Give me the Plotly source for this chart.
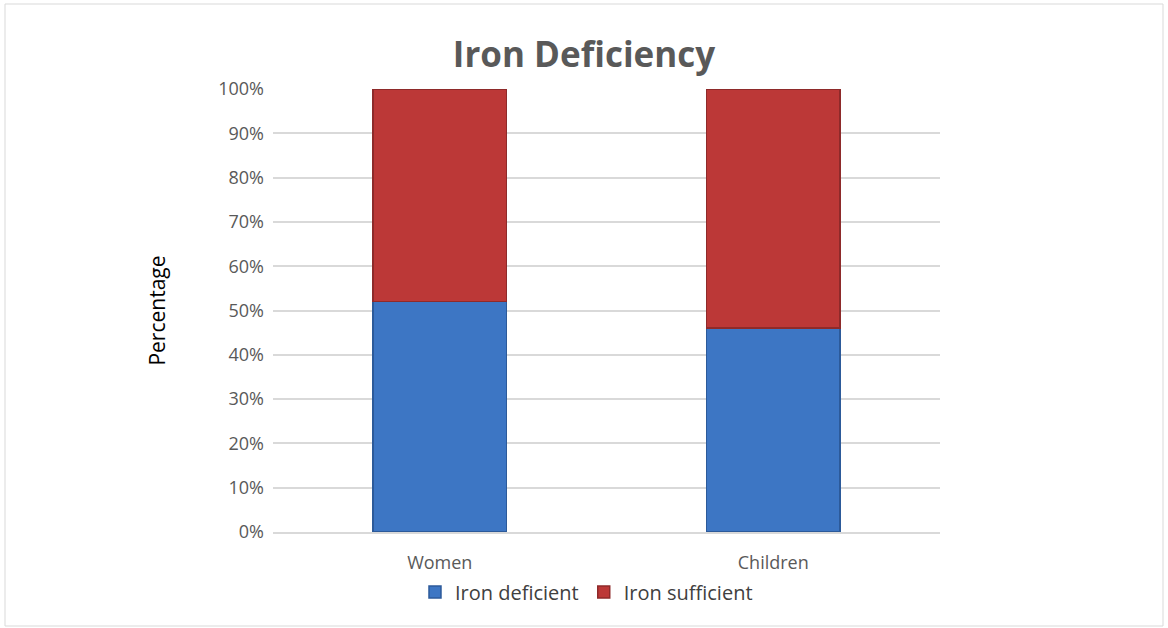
import plotly.graph_objects as go

categories = ["Women", "Children"]
iron_deficient = [52, 46]
iron_sufficient = [48, 54]
tick_vals = [0, 10, 20, 30, 40, 50, 60, 70, 80, 90, 100]
tick_text = [f"{v}%" for v in tick_vals]

FONT = "Open Sans"

fig = go.Figure()
fig.add_trace(go.Bar(
    x=categories, y=iron_deficient, name="Iron deficient",
    marker=dict(color="#3d76c4", line=dict(color="#2c5a9a", width=1.5)),
))
fig.add_trace(go.Bar(
    x=categories, y=iron_sufficient, name="Iron sufficient",
    marker=dict(color="#bc3837", line=dict(color="#8e2a2a", width=1.5)),
))

fig.update_layout(
    barmode="stack",
    bargap=0.6,
    width=1168, height=628,
    margin=dict(l=273, r=228, t=89, b=96),
    paper_bgcolor="white", plot_bgcolor="white",
    title=dict(text="<b>Iron Deficiency</b>", x=0.5, xref="container", xanchor="center",
               y=1 - 55 / 628, yanchor="middle",
               font=dict(family=FONT, size=35, color="#595959")),
    font=dict(family=FONT, size=18, color="#595959"),
    legend=dict(orientation="h", x=0.47, xanchor="center", y=-60 / 443, yanchor="middle",
                font=dict(family=FONT, size=20, color="#404040"), traceorder="normal",
                itemwidth=30),
    xaxis=dict(showgrid=False, showline=True, linecolor="#d9d9d9", linewidth=1.5,
               tickfont=dict(family=FONT, size=18, color="#595959"), ticks="",
               ticklabelstandoff=14),
    yaxis=dict(range=[0, 100], tickvals=tick_vals, ticktext=tick_text,
               showgrid=True, gridcolor="#d9d9d9", gridwidth=1.5, zeroline=False,
               title=dict(text="Percentage", font=dict(family=FONT, size=21, color="#000000"), standoff=46),
               tickfont=dict(family=FONT, size=18, color="#595959"), ticks="",
               ticklabelstandoff=8),
    showlegend=True,
)

fig.add_shape(type="rect", xref="paper", yref="paper",
              x0=-268/667, x1=(1163-273)/667, y0=(532-626)/443, y1=(532-4)/443,
              line=dict(color="#d9d9d9", width=1), fillcolor="rgba(0,0,0,0)", layer="below")

fig.write_html("out.html")
